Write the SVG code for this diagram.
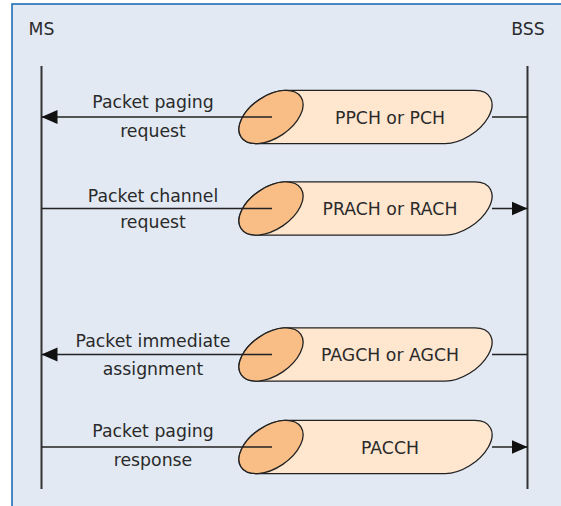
<svg xmlns="http://www.w3.org/2000/svg" width="561" height="506" viewBox="0 0 561 506">
  <defs>
    <style>
      .lbl { font-family: "DejaVu Sans", "Liberation Sans", sans-serif; font-size: 17.3px; fill: #2a2a2a; text-anchor: middle; }
      .life { stroke: #333; stroke-width: 2; fill: none; }
      .conn { stroke: #222; stroke-width: 1.6; fill: none; }
      .body { fill: #fee6cf; stroke: #222; stroke-width: 1.3; }
      .cap { fill: #f9be86; stroke: #222; stroke-width: 1.3; }
    </style>
    <marker id="arr" viewBox="0 0 16 16" refX="16" refY="8" markerWidth="16" markerHeight="16" markerUnits="userSpaceOnUse" orient="auto">
      <path d="M0,1 L16,8 L0,15 Z" fill="#111"/>
    </marker>
    <g id="cyl">
      <path class="body" d="M285.89,-26.62 L474.89,-26.62 A36 21 -34 0 1 445.11,26.62 L256.11,26.62 A36 21 -34 0 1 285.89,-26.62 Z"/>
      <ellipse class="cap" cx="271" cy="0" rx="36" ry="21" transform="rotate(-34 271 0)"/>
    </g>
  </defs>

  <rect x="12" y="4" width="560" height="520" fill="#e2e9f3" stroke="#1f6db4" stroke-width="1.6"/>

  <g id="ms">
    <text class="lbl" x="41.5" y="35">MS</text>
    <line class="life" x1="41.5" y1="66" x2="41.5" y2="489"/>
  </g>
  <g id="bss">
    <text class="lbl" x="528" y="35">BSS</text>
    <line class="life" x1="527.5" y1="66" x2="527.5" y2="489"/>
  </g>

  <g id="ch1">
    <use href="#cyl" transform="translate(0,117)"/>
    <text class="lbl" x="390" y="124">PPCH or PCH</text>
  </g>
  <g id="ch2">
    <use href="#cyl" transform="translate(0,208.5)"/>
    <text class="lbl" x="390" y="215">PRACH or RACH</text>
  </g>
  <g id="ch3">
    <use href="#cyl" transform="translate(0,354.5)"/>
    <text class="lbl" x="390" y="361">PAGCH or AGCH</text>
  </g>
  <g id="ch4">
    <use href="#cyl" transform="translate(0,447)"/>
    <text class="lbl" x="390" y="454">PACCH</text>
  </g>

  <g id="connectors">
    <line class="conn" x1="272" y1="117" x2="41.5" y2="117" marker-end="url(#arr)"/>
    <line class="conn" x1="492" y1="117" x2="527.5" y2="117"/>
    <line class="conn" x1="41.5" y1="208.5" x2="272" y2="208.5"/>
    <line class="conn" x1="492" y1="208.5" x2="527.5" y2="208.5" marker-end="url(#arr)"/>
    <line class="conn" x1="272" y1="354.5" x2="41.5" y2="354.5" marker-end="url(#arr)"/>
    <line class="conn" x1="492" y1="354.5" x2="527.5" y2="354.5"/>
    <line class="conn" x1="41.5" y1="447" x2="272" y2="447"/>
    <line class="conn" x1="492" y1="447" x2="527.5" y2="447" marker-end="url(#arr)"/>
  </g>

  <g id="labels">
    <text class="lbl" x="153" y="108">Packet paging</text>
    <text class="lbl" x="153" y="137">request</text>
    <text class="lbl" x="153" y="202">Packet channel</text>
    <text class="lbl" x="153" y="228">request</text>
    <text class="lbl" x="153" y="347">Packet immediate</text>
    <text class="lbl" x="153" y="375">assignment</text>
    <text class="lbl" x="153" y="437">Packet paging</text>
    <text class="lbl" x="153" y="466">response</text>
  </g>
</svg>
